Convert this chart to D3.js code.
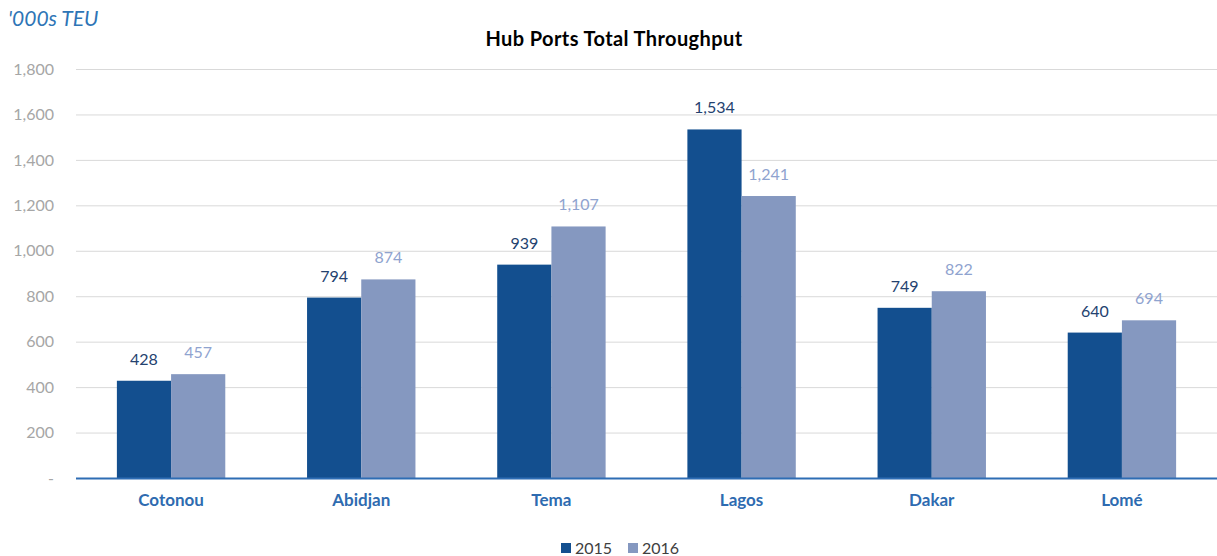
<!DOCTYPE html>
<html lang="en">
<head>
<meta charset="utf-8">
<title>Hub Ports Total Throughput</title>
<script src="https://d3js.org/d3.v7.min.js"></script>
<style>
  body { margin: 0; background: #fff; font-family: Lato, "Open Sans", sans-serif; }
</style>
</head>
<body>
<script>
var ports = ["Cotonou", "Abidjan", "Tema", "Lagos", "Dakar", "Lomé"];
var years = ["2015", "2016"];
var values2015 = [428, 794, 939, 1534, 749, 640];
var values2016 = [457, 874, 1107, 1241, 822, 694];
var yTicks = [0, 200, 400, 600, 800, 1000, 1200, 1400, 1600, 1800];

var W = 1217, H = 556;
var margin = {top: 69, right: 0, bottom: 78, left: 76};
var width = W - margin.left - margin.right,
    height = H - margin.top - margin.bottom;

var barColor = {"2015": "#134f8f", "2016": "#8598c0"};
var labelColor = {"2015": "#24426f", "2016": "#8fa3cf"};

var svg = d3.select("body").append("svg")
    .attr("width", W)
    .attr("height", H);

var g = svg.append("g").attr("transform", "translate(" + margin.left + "," + margin.top + ")");

var x0 = d3.scaleBand().domain(ports).range([0, width]).padding(0);
var x1 = d3.scaleBand().domain(years)
    .range([x0.bandwidth() * 0.215, x0.bandwidth() * 0.785]).padding(0);
var y = d3.scaleLinear().domain([0, 1800]).range([height, 0]);

// gridlines
g.append("g").selectAll("line")
  .data(yTicks.slice(1))
  .enter().append("line")
  .attr("x1", 0).attr("x2", width)
  .attr("y1", function(d) { return y(d) + 0.5; })
  .attr("y2", function(d) { return y(d) + 0.5; })
  .attr("stroke", "#d9d9d9").attr("stroke-width", 1);

// y axis labels
var yAxis = g.append("g")
  .call(d3.axisLeft(y).tickValues(yTicks).tickSize(0).tickPadding(22)
    .tickFormat(function(d) { return d === 0 ? "-" : d3.format(",")(d); }));
yAxis.select(".domain").remove();
yAxis.selectAll("text")
  .attr("fill", "#a6a6a6")
  .style("font-size", "16px")
  .style("font-family", "Lato, 'Open Sans', sans-serif");

var data = ports.map(function(p, i) {
  return {port: p, vals: [{key: "2015", value: values2015[i]}, {key: "2016", value: values2016[i]}]};
});

var groups = g.append("g").selectAll("g")
  .data(data)
  .enter().append("g")
  .attr("transform", function(d) { return "translate(" + x0(d.port) + ",0)"; });

groups.selectAll("rect")
  .data(function(d) { return d.vals; })
  .enter().append("rect")
  .attr("x", function(d) { return x1(d.key); })
  .attr("y", function(d) { return y(d.value); })
  .attr("width", x1.bandwidth())
  .attr("height", function(d) { return height - y(d.value); })
  .attr("fill", function(d) { return barColor[d.key]; });

groups.selectAll("text.val")
  .data(function(d) { return d.vals; })
  .enter().append("text")
  .attr("class", "val")
  .attr("x", function(d) { return x1(d.key) + x1.bandwidth() / 2; })
  .attr("y", function(d) { return y(d.value) - 16; })
  .attr("text-anchor", "middle")
  .attr("fill", function(d) { return labelColor[d.key]; })
  .style("font-size", "16px")
  .text(function(d) { return d3.format(",")(d.value); });

// baseline
g.append("line")
  .attr("x1", 0).attr("x2", width)
  .attr("y1", height + 0.5).attr("y2", height + 0.5)
  .attr("stroke", "#2e6db4").attr("stroke-width", 2);

// category labels
var xAxis = g.append("g")
  .attr("transform", "translate(0," + height + ")")
  .call(d3.axisBottom(x0).tickSize(0).tickPadding(16));
xAxis.select(".domain").remove();
xAxis.selectAll("text")
  .attr("fill", "#2e6bb0")
  .style("font-size", "17px")
  .style("font-weight", "bold")
  .style("font-family", "Lato, 'Open Sans', sans-serif");

// title
svg.append("text")
  .attr("x", 614).attr("y", 46)
  .attr("text-anchor", "middle")
  .attr("fill", "#000")
  .style("font-size", "20px")
  .style("font-weight", "bold")
  .style("letter-spacing", "0.4px")
  .text("Hub Ports Total Throughput");

// units
svg.append("text")
  .attr("x", 8).attr("y", 26)
  .attr("fill", "#2e75b6")
  .style("font-size", "21px")
  .style("font-style", "italic")
  .text("'000s TEU");

// legend
var legend = svg.append("g").selectAll("g")
  .data(years)
  .enter().append("g")
  .attr("transform", function(d, i) { return "translate(" + (561 + i * 67) + ",543)"; });

legend.append("rect")
  .attr("width", 10).attr("height", 10)
  .attr("fill", function(d) { return barColor[d]; });

legend.append("text")
  .attr("x", 14).attr("y", 11)
  .attr("fill", "#404040")
  .style("font-size", "16px")
  .text(function(d) { return d; });
</script>
</body>
</html>
